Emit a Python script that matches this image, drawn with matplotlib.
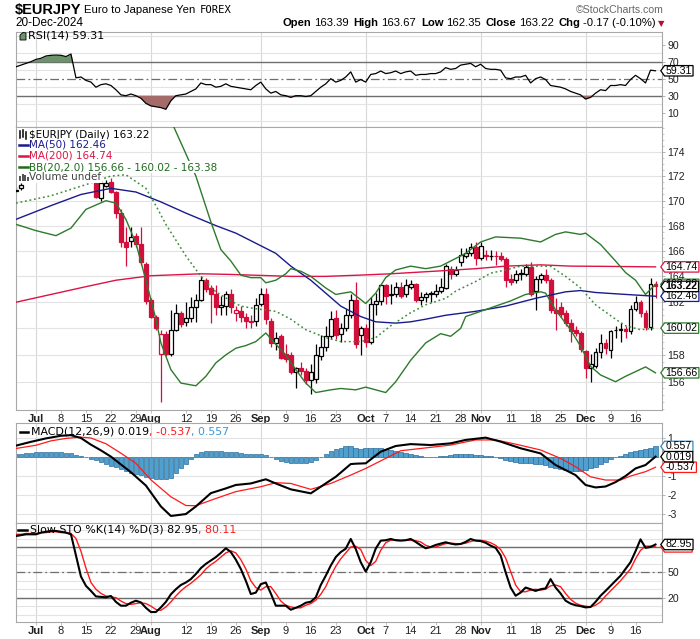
import numpy as np
import pandas as pd
import matplotlib
matplotlib.use('Agg')
import matplotlib.pyplot as plt
from matplotlib.path import Path
from matplotlib.patches import Polygon, Rectangle
from matplotlib.lines import Line2D
from matplotlib.ticker import FixedLocator, FuncFormatter
from matplotlib import font_manager

W, H = 700, 639

# ---------------- data ----------------
start_date, end_date = '2024-06-25', '2024-12-20'
ref_day = '2024-07-01'

open_ = [170.8, 171.0, 171.7, 171.9, 172.4, 173.7, 173.5, 174.3, 174.4, 174.1,
         174.3, 174.6, 175.2, 173.2, 172.6, 172.1, 172.2, 170.2, 171.2, 171.5,
         170.7, 169.0, 166.7, 166.8, 167.2, 166.5, 165.0, 162.2, 160.9, 158.1,
         159.6, 158.1, 159.9, 161.2, 160.5, 160.8, 161.6, 162.2, 163.7, 163.1,
         162.6, 161.6, 161.7, 162.6, 161.2, 161.3, 160.9, 160.6, 160.6, 161.9,
         162.6, 160.6, 158.9, 159.4, 158.1, 158.0, 156.7, 157.0, 156.8, 156.1,
         156.2, 157.9, 158.6, 159.4, 160.8, 159.6, 160.0, 161.0, 162.2, 159.5,
         160.0, 159.0, 161.9, 162.1, 163.3, 162.55, 162.6, 163.2, 162.6, 163.2,
         163.4, 162.2, 162.4, 162.6, 162.6, 162.9, 163.1, 164.6, 164.2, 165.1,
         165.6, 165.8, 166.3, 165.4, 165.65, 165.6, 165.62, 165.6, 165.35, 163.8,
         163.7, 164.2, 164.2, 164.75, 162.9, 163.8, 164.1, 163.7, 161.4, 161.6,
         161.2, 160.4, 159.9, 159.65, 158.3, 157.0, 157.2, 158.2, 158.9, 158.4,
         159.85, 159.85, 159.95, 159.8, 161.5, 162.0, 161.2, 160.1, 163.39]
high = [171.1, 171.4, 172.0, 172.6, 173.9, 173.8, 174.5, 174.6, 174.6, 174.5,
        174.8, 175.4, 175.4, 173.4, 172.8, 172.4, 172.3, 171.7, 171.7, 171.8,
        170.8, 169.3, 167.9, 167.9, 167.4, 167.9, 165.1, 162.3, 161.0, 159.9,
        159.8, 161.4, 161.9, 161.3, 162.0, 162.4, 162.6, 164.0, 163.9, 163.3,
        163.3, 162.5, 162.9, 163.0, 161.7, 161.7, 161.2, 161.0, 162.3, 163.1,
        163.1, 160.8, 159.7, 159.6, 158.8, 158.2, 157.1, 157.5, 157.0, 157.3,
        158.8, 159.5, 160.2, 161.3, 161.4, 160.4, 161.5, 162.6, 163.6, 160.2,
        160.3, 162.4, 162.7, 163.4, 163.4, 163.4, 163.6, 163.6, 163.8, 163.7,
        163.5, 162.8, 162.8, 162.9, 163.4, 163.9, 165.0, 164.8, 164.8, 166.2,
        166.2, 166.6, 166.7, 166.7, 166.1, 166.1, 166.0, 165.9, 165.5, 164.2,
        164.5, 164.6, 165.0, 165.1, 164.0, 164.3, 164.6, 163.9, 162.3, 162.0,
        161.4, 160.7, 160.2, 159.8, 158.4, 158.1, 158.5, 159.6, 159.2, 159.9,
        160.2, 160.4, 160.2, 161.8, 162.5, 162.2, 161.4, 163.9, 163.67]
low = [170.7, 170.9, 171.65, 171.8, 172.3, 173.1, 173.4, 174.0, 173.8, 173.7,
       174.1, 174.5, 172.4, 171.8, 171.8, 171.8, 170.2, 170.0, 171.1, 170.6,
       168.6, 166.3, 164.8, 166.3, 166.3, 164.9, 161.9, 160.8, 159.9, 154.5,
       157.9, 157.9, 159.8, 160.1, 160.2, 160.5, 160.5, 162.1, 162.8, 160.4,
       161.0, 161.0, 161.0, 161.2, 160.6, 160.5, 160.0, 160.0, 160.2, 161.7,
       160.3, 158.6, 158.4, 157.7, 157.5, 156.6, 155.5, 156.5, 155.8, 155.1,
       155.9, 157.6, 158.3, 159.2, 159.2, 159.0, 159.8, 160.8, 158.5, 158.0,
       158.6, 158.8, 161.0, 161.8, 161.9, 161.9, 162.4, 162.3, 162.4, 163.0,
       162.0, 161.8, 162.0, 162.0, 162.4, 162.7, 163.0, 163.8, 164.0, 164.8,
       165.4, 165.6, 164.9, 165.3, 165.3, 165.3, 164.9, 165.2, 163.2, 163.3,
       163.5, 163.7, 164.0, 162.5, 161.4, 163.5, 163.5, 161.2, 159.9, 160.9,
       160.2, 159.0, 159.4, 158.2, 156.3, 156.0, 157.0, 157.8, 158.1, 157.8,
       159.3, 159.0, 159.3, 159.6, 161.3, 160.9, 159.9, 159.9, 162.35]
close = [170.9, 171.3, 171.9, 172.4, 173.7, 173.5, 174.3, 174.4, 174.1, 174.3,
         174.6, 175.2, 173.2, 172.6, 172.1, 172.2, 170.3, 171.4, 171.4, 170.7,
         169.0, 166.7, 166.3, 167.1, 166.5, 165.1, 162.1, 160.9, 160.0, 159.6,
         158.1, 159.9, 161.2, 160.3, 160.8, 161.6, 162.2, 163.7, 163.0, 162.6,
         161.6, 161.8, 162.6, 161.6, 161.4, 160.9, 160.6, 160.5, 161.8, 162.6,
         160.7, 158.9, 159.3, 157.8, 157.7, 156.7, 157.0, 156.8, 156.1, 156.7,
         158.0, 158.6, 159.4, 160.7, 159.5, 160.0, 161.0, 162.2, 158.8, 160.0,
         159.0, 161.9, 162.1, 163.3, 162.5, 162.65, 163.2, 162.5, 163.3, 163.4,
         162.2, 162.4, 162.6, 162.7, 162.9, 163.2, 164.8, 164.2, 164.5, 165.7,
         165.8, 166.3, 165.4, 166.4, 165.6, 165.62, 165.6, 165.35, 163.7, 163.6,
         164.2, 164.25, 164.75, 162.65, 163.8, 164.1, 163.7, 161.4, 161.2, 161.1,
         160.4, 159.8, 159.65, 158.45, 157.0, 157.3, 158.2, 158.9, 158.5, 159.8,
         159.9, 159.95, 159.8, 161.5, 162.0, 161.2, 160.1, 163.39, 163.22]

# overlay lines, (trading days from 1 Jul, value)
ma50_day = [-4, 3, 9, 15, 20, 25, 30, 36, 40, 44, 48, 51, 55, 58, 61, 65, 68, 72, 75, 78, 82, 88, 94, 100, 106, 109, 112, 118, 124]
ma50_val = [168.5, 169.6, 170.5, 171.0, 170.7, 169.9, 169.0, 168.0, 167.4, 166.6, 165.8, 164.8, 163.7, 162.7, 161.7, 160.9,
            160.5, 160.4, 160.5, 160.7, 161.0, 161.3, 161.7, 162.3, 162.8, 162.9, 162.75, 162.6, 162.46]
ma200_day = [-4, 10, 16, 23, 33, 39, 51, 58, 65, 71, 81, 88, 94, 101, 107, 114, 124]
ma200_val = [162.0, 163.2, 163.7, 164.05, 164.2, 164.15, 164.0, 164.0, 164.1, 164.2, 164.43, 164.6, 164.8, 164.9, 164.8, 164.78, 164.74]
bbm_day = [-4, 3, 10, 15, 18, 22, 24, 26, 30, 33, 36, 39, 41, 44, 48, 51, 54, 58, 61, 65, 68, 71, 75, 78, 82, 84, 88, 91, 94,
           97, 101, 103, 106, 109, 112, 116, 118, 121, 124]
bbm_val = [169.8, 170.4, 171.3, 172.0, 172.1, 171.0, 169.6, 168.1, 165.6, 164.0, 162.8, 162.1, 161.7, 161.5, 161.3, 160.7,
           159.9, 159.3, 159.0, 159.0, 159.3, 160.2, 161.2, 161.8, 162.3, 162.85, 163.6, 164.25, 164.5, 164.8, 164.8, 164.78,
           164.0, 163.1, 161.8, 160.7, 160.2, 159.9, 160.02]
bbu_day = [-4, 10, 20, 25, 27, 32, 35, 37, 39, 41, 43, 45, 46, 48, 50, 51, 53, 55, 58, 60, 63, 66, 68, 70, 72, 75, 78, 81,
           83, 86, 89, 92, 97, 101, 104, 106, 109, 110, 113, 116, 118, 120, 122, 124]
bbu_val = [177.0, 177.5, 178.0, 177.5, 176.6, 172.0, 168.3, 166.1, 165.2, 164.1, 163.9, 163.9, 163.5, 163.7, 164.2, 164.6,
           164.4, 164.0, 163.1, 162.6, 162.8, 161.9, 162.7, 163.9, 164.5, 164.8, 164.6, 164.8, 165.2, 165.8, 166.7, 167.1,
           167.0, 166.7, 167.3, 167.5, 167.3, 167.4, 166.5, 165.2, 164.3, 163.7, 162.6, 163.38]
bbl_day = [-4, 0, 4, 7, 10, 14, 16, 18, 20, 22, 24, 25, 27, 29, 32, 34, 36, 38, 40, 42, 44, 46, 48, 50, 52, 54, 56, 59, 61,
           64, 66, 68, 70, 72, 75, 78, 81, 83, 85, 86, 89, 92, 95, 98, 101, 102, 104, 107, 109, 111, 113, 116, 118, 122, 124]
bbl_val = [168.1, 167.6, 167.2, 167.8, 169.3, 170.0, 169.8, 168.5, 166.6, 163.7, 160.7, 158.9, 156.9, 155.9, 155.7, 156.4,
           157.4, 158.0, 158.5, 158.7, 159.0, 159.65, 158.8, 158.0, 156.9, 155.9, 155.2, 155.4, 155.5, 155.4, 155.6, 155.4,
           155.2, 156.0, 157.6, 158.9, 159.6, 159.4, 160.0, 160.9, 161.3, 161.7, 162.1, 162.6, 162.8, 162.7, 161.4, 159.9,
           158.65, 157.15, 156.5, 156.0, 156.4, 157.1, 156.66]

rsi = [64, 66, 68, 70,
       72.7, 74, 76.7, 77.5, 77.8, 77.5, 76, 79,
       51, 52, 48, 46, 40, 43, 44, 42,
       37, 31, 30, 32, 30, 27, 21, 18,
       17, 16, 14, 24, 30, 31, 32, 35,
       38, 45, 43, 43, 40, 41, 44, 41,
       40, 39, 38, 37, 42, 46, 38, 33,
       35, 31, 30, 28, 30, 30, 29, 30,
       35, 40, 44, 50, 46, 48, 52, 58,
       46, 49, 46, 55, 56, 59, 56, 57,
       59, 56, 58, 59, 54, 55, 55, 56,
       56, 58, 63, 61, 62, 66, 67, 68,
       64, 67, 62, 61, 61, 60, 51, 50,
       52, 52, 54, 45, 50, 52, 49, 42,
       41, 40, 38, 35, 33, 31, 26, 28,
       33, 37, 36, 42, 42, 43, 42, 49,
       54, 50, 45, 60, 59.31]

macd_day = [-4, -1, 2, 5, 7, 9, 11, 13, 15, 19, 22, 25, 27, 30, 32, 35, 38, 40, 43, 46, 48, 51, 55, 57, 60, 63, 64, 66, 69,
            72, 75, 79, 83, 86, 90, 93, 97, 101, 104, 108, 110, 112, 114, 116, 118, 120, 122, 124]
macd_val = [0.6, 0.8, 0.98, 1.12, 1.15, 1.0, 0.65, 0.35, 0.02, -0.8, -1.5, -2.6, -3.1, -3.0, -2.6, -1.9, -1.65, -1.47, -1.39,
            -1.17, -1.39, -1.7, -1.91, -1.56, -1.04, -0.37, -0.35, -0.33, 0.28, 0.58, 0.68, 0.63, 0.72, 0.9, 1.02, 0.81,
            0.46, 0.19, -0.42, -0.95, -1.47, -1.6, -1.55, -1.32, -1.0, -0.6, -0.42, 0.019]
sig_day = [-4, 0, 3, 6, 9, 11, 14, 17, 20, 23, 27, 30, 32, 36, 40, 45, 48, 51, 55, 59, 63, 66, 70, 73, 79, 83, 88, 92, 96,
           101, 105, 108, 111, 114, 117, 119, 122, 124]
sig_val = [0.45, 0.62, 0.85, 0.98, 1.05, 1.0, 0.7, 0.2, -0.33, -1.2, -2.09, -2.55, -2.56, -2.18, -1.82, -1.56, -1.35, -1.39,
           -1.7, -1.39, -0.95, -0.6, -0.07, 0.33, 0.51, 0.63, 0.9, 0.9, 0.68, 0.37, -0.07, -0.51, -1.04, -1.21, -1.21,
           -1.0, -0.77, -0.537]
hist = [0.15, 0.18, 0.2, 0.22,
        0.24, 0.25, 0.26, 0.26, 0.25, 0.24, 0.22,
        0.2, 0.12, 0.05, -0.02,
        -0.1, -0.18, -0.27, -0.36, -0.45,
        -0.55, -0.65, -0.75, -0.83, -0.9,
        -0.97, -1.03, -1.1, -1.15, -1.18, -1.18, -1.1,
        -0.85, -0.6, -0.35, -0.1,
        0.15, 0.25, 0.3, 0.32, 0.32, 0.3,
        0.28, 0.26, 0.25, 0.22, 0.18, 0.16, 0.17, 0.15, 0.1,
        0.02, -0.1, -0.2,
        -0.26, -0.3, -0.33, -0.33, -0.32, -0.28,
        -0.15, 0.0, 0.15,
        0.3, 0.4, 0.5, 0.56, 0.58, 0.5, 0.42,
        0.46, 0.5, 0.48, 0.45, 0.42, 0.35, 0.3,
        0.25, 0.2, 0.15, 0.1, 0.05, 0.02,
        0.0, 0.02, 0.05, 0.08, 0.12,
        0.15, 0.17, 0.16, 0.15, 0.12, 0.1, 0.06,
        0.03, 0.0, -0.05,
        -0.15, -0.22, -0.27, -0.3, -0.32, -0.34,
        -0.36, -0.38, -0.42, -0.5, -0.58, -0.62, -0.68,
        -0.72, -0.75, -0.72, -0.68, -0.6, -0.5,
        -0.38, -0.25, -0.12, -0.02,
        0.07, 0.18, 0.28, 0.32, 0.38, 0.42, 0.5, 0.557]

sto_k = [93, 94, 95, 95,
         95, 97, 98, 99, 99, 98, 97, 95,
         70, 45, 34, 28, 21.5, 21, 20.4, 22,
         15, 10.5, 10.5, 14, 16.4, 14.4, 8, 3,
         3, 8.5, 15, 24, 30, 35, 38, 42,
         48, 55, 60, 64, 68, 73, 78.5, 74,
         65, 54, 40, 24.3, 26, 36, 38, 25,
         10.5, 10.5, 10.5, 5.7, 8, 10.5, 14, 15.2,
         20.4, 35, 46, 58, 68, 74, 78, 89.5,
         77.7, 62, 50.8, 62, 78, 87.5, 88, 89.5,
         88, 87.5, 88, 89.5, 86, 82, 78.5, 80,
         82.4, 84, 85.6, 84, 83, 83.6, 86, 89.5,
         87.5, 87, 85, 81.6, 79, 70, 50, 32,
         22.3, 26, 32, 30, 28, 30, 31, 42,
         32, 25, 16.4, 13, 11, 10, 8.5, 9,
         15, 22.3, 28, 34, 40, 46, 54, 62,
         75, 89, 79, 80, 82.95]
sto_d = [95, 95, 96, 96,
         96, 97, 97, 98, 98, 97, 97, 96,
         90, 75, 55, 38, 30, 25, 22, 21,
         20, 16, 13, 12, 13, 14, 13, 10,
         6, 5, 9, 15, 22, 28, 33, 37,
         42, 47, 54, 59, 63, 68, 73, 75.5,
         73, 65, 54, 40, 32, 29, 33, 33,
         25, 16, 11, 9, 8, 8, 11, 13,
         17, 24, 33, 46, 57, 66, 73, 80,
         81, 77, 64, 58, 63, 76, 85, 88,
         88.5, 88, 88, 88, 87.5, 86, 82, 80,
         80, 82, 84, 84.5, 84, 83.5, 84.5, 86.5,
         88, 88, 87, 85, 82, 77, 67, 51,
         35, 27, 27, 29, 30, 29, 30, 34,
         35, 33, 25, 18, 13.5, 11, 10, 9,
         11, 15, 22, 28, 34, 40, 47, 54,
         66, 76, 81, 81, 80.11]

price_ticks = [156, 158, 160, 162, 164, 166, 168, 170, 172, 174]
rsi_ticks = [10, 30, 50, 70, 90]
macd_ticks = [1, -1, -2, -3]
sto_ticks = [20, 50, 80]

# ---------------- fonts ----------------
names = {f.name for f in font_manager.fontManager.ttflist}
NARROW = 'Liberation Sans Narrow' if 'Liberation Sans Narrow' in names else 'Liberation Sans'
ARIAL = 'Liberation Sans'
plt.rcParams['font.family'] = ['DejaVu Sans']

# ---------------- figure ----------------
dates = pd.bdate_range(start_date, end_date)
n = len(dates)
x = np.arange(n)
d0 = dates.get_loc(pd.Timestamp(ref_day))

fig = plt.figure(figsize=(W / 100, H / 100), dpi=100)
fig.patch.set_facecolor('white')


def rect(top, bottom):
    return [16 / W, 1 - bottom / H, (662 - 16) / W, (bottom - top) / H]


ax_r = fig.add_axes(rect(32, 127))
ax_p = fig.add_axes(rect(127, 410))
ax_m = fig.add_axes(rect(423, 523))
ax_s = fig.add_axes(rect(523, 622))
axes = [ax_r, ax_p, ax_m, ax_s]

month_first = [k for k in range(1, n) if dates[k].month != dates[k - 1].month]
mondays = [k for k in range(n) if dates[k].dayofweek == 0]
tick_pos, tick_lab, tick_bold = [], [], []
for k in sorted(set(month_first) | set(mondays)):
    if k in month_first:
        tick_pos.append(k); tick_lab.append(dates[k].strftime('%b')); tick_bold.append(True)
    elif not any(abs(k - m) <= 2 for m in month_first):
        tick_pos.append(k); tick_lab.append(str(dates[k].day)); tick_bold.append(False)

GRID = '#e3e3e3'
REF = '#6e6e6e'
for ax in axes:
    ax.set_xlim(0, n + 0.3)
    for sp in ax.spines.values():
        sp.set_color('#a8a8a8'); sp.set_linewidth(0.8)
    ax.yaxis.tick_right()
    ax.tick_params(axis='y', which='major', length=2.5, width=0.6, color='#a8a8a8', labelsize=7.6, pad=1.5,
                   labelcolor='#222222', labelfontfamily=ARIAL)
    ax.tick_params(axis='y', which='minor', length=1.5, width=0.5, color='#b8b8b8')
    for m in month_first:
        ax.axvline(m, color='#d8d8d8', lw=0.8, zorder=0)
    ax.set_xticks(tick_pos)
    ax.tick_params(axis='x', length=2, width=0.5, color='#a8a8a8', labelsize=8, pad=1.2, labelcolor='#222222',
                   labelfontfamily=ARIAL)
    if ax in (ax_p, ax_s):
        ax.set_xticklabels(tick_lab)
        for t, b in zip(ax.get_xticklabels(), tick_bold):
            t.set_fontweight('bold' if b else 'normal')
    else:
        ax.set_xticklabels([])


def px(xp, yp):
    return (xp / W, 1 - yp / H)


def tag_box(x0, y0, width, height, mutation_size):
    p = 0.1 * mutation_size
    x0 -= p; width += 2 * p
    y0 -= 0.02 * mutation_size; height += 0.04 * mutation_size
    a = height * 0.36
    verts = [(x0 - a, y0 + height / 2), (x0, y0), (x0 + width, y0), (x0 + width, y0 + height),
             (x0, y0 + height), (x0 - a, y0 + height / 2)]
    codes = [Path.MOVETO, Path.LINETO, Path.LINETO, Path.LINETO, Path.LINETO, Path.CLOSEPOLY]
    return Path(verts, codes)


def tag(ax, val, txt, ec, bold=False, z=6):
    ax.annotate(txt, xy=(1, val), xycoords=('axes fraction', 'data'), xytext=(2.6, 0),
                textcoords='offset points', ha='left', va='center', fontsize=7.6, family=ARIAL,
                fontweight='bold' if bold else 'normal', color='black',
                bbox=dict(boxstyle=tag_box, fc='white', ec=ec, lw=0.9), annotation_clip=False, zorder=z)


# ---------------- RSI ----------------
rv = np.array(rsi, float)
ax_r.set_ylim(-6.8, 104.9)
for g in [0, 20, 40, 60, 80, 100]:
    ax_r.axhline(g, color=GRID, lw=0.8, zorder=0)
ax_r.axhline(70, color=REF, lw=1.0, zorder=1)
ax_r.axhline(30, color=REF, lw=1.0, zorder=1)
ax_r.axhline(50, color=REF, lw=0.9, dashes=(7, 2.5, 1.5, 2.5), zorder=1)
ax_r.fill_between(x, rv, 70, where=rv >= 70, interpolate=True, color='#6b946b', lw=0, zorder=2)
ax_r.fill_between(x, rv, 30, where=rv <= 30, interpolate=True, color='#a56b6b', lw=0, zorder=2)
ax_r.plot(x, rv, color='black', lw=0.9, zorder=3)
ax_r.yaxis.set_major_locator(FixedLocator(rsi_ticks))
ax_r.yaxis.set_major_formatter(FuncFormatter(lambda v, _: f'{v:.0f}'))
tag(ax_r, rsi[-1], f'{rsi[-1]:.2f}', 'black')

# ---------------- price ----------------
ax_p.set_yscale('log')
ax_p.set_ylim(153.92, 176.05)
ax_p.yaxis.set_major_locator(FixedLocator(price_ticks))
ax_p.yaxis.set_minor_locator(FixedLocator(np.arange(154, 176.01, 0.5)))
ax_p.yaxis.set_major_formatter(FuncFormatter(lambda v, _: f'{v:.0f}'))
ax_p.yaxis.set_minor_formatter(FuncFormatter(lambda v, _: ''))
for g in price_ticks:
    ax_p.axhline(g, color=GRID, lw=0.8, zorder=0)

RED = '#d10f3a'
o = np.array(open_); h = np.array(high); l = np.array(low); c = np.array(close)
prev = np.concatenate([[o[0]], c[:-1]])
for k in range(n):
    col = RED if c[k] < prev[k] else 'black'
    filled = c[k] < o[k]
    ax_p.vlines(x[k], l[k], h[k], color=col, lw=0.9, zorder=2)
    lo, hi = min(o[k], c[k]), max(o[k], c[k])
    ax_p.bar(x[k], hi - lo, bottom=lo, width=0.78, color=col if filled else 'white',
             edgecolor=col, linewidth=0.9, zorder=3)


def dx(days):
    return d0 + np.array(days)


ax_p.plot(dx(ma200_day), ma200_val, color='#dc1446', lw=1.0, zorder=4)
ax_p.plot(dx(ma50_day), ma50_val, color='#1a1a8c', lw=1.0, zorder=4)
ax_p.plot(dx(bbu_day), bbu_val, color='#2d7a2d', lw=1.0, zorder=4)
ax_p.plot(dx(bbl_day), bbl_val, color='#2d7a2d', lw=1.0, zorder=4)
ax_p.plot(dx(bbm_day), bbm_val, color='#3d8d3d', lw=1.1, ls=(0, (1.2, 1.8)), zorder=4)

tag(ax_p, ma200_val[-1], f'{ma200_val[-1]:.2f}', '#dc1446')
tag(ax_p, bbu_val[-1], f'{bbu_val[-1]:.2f}', '#2d7a2d', z=6)
tag(ax_p, close[-1], f'{close[-1]:.2f}', 'black', bold=True, z=8)
tag(ax_p, ma50_val[-1], f'{ma50_val[-1]:.2f}', '#1a1a8c', z=7)
tag(ax_p, bbm_val[-1], f'{bbm_val[-1]:.2f}', '#2d7a2d')
tag(ax_p, bbl_val[-1], f'{bbl_val[-1]:.2f}', '#2d7a2d')

# ---------------- MACD ----------------
ax_m.set_ylim(-3.47, 1.79)
for g in [1, 0, -1, -2, -3]:
    ax_m.axhline(g, color=GRID, lw=0.8, zorder=0)
ax_m.bar(x, hist, width=0.9, color='#4f9fcf', edgecolor='#2f6f99', linewidth=0.5, zorder=2)
ax_m.plot(dx(sig_day), sig_val, color='#ff1a1a', lw=0.9, zorder=3)
ax_m.plot(dx(macd_day), macd_val, color='black', lw=1.5, zorder=4)
ax_m.yaxis.set_major_locator(FixedLocator(macd_ticks))
ax_m.yaxis.set_major_formatter(FuncFormatter(lambda v, _: f'{v:.0f}'))
tag(ax_m, hist[-1], f'{hist[-1]:.3f}', '#3a88bb')
tag(ax_m, macd_val[-1], f'{macd_val[-1]:.3f}', 'black', z=7)
tag(ax_m, sig_val[-1], f'{sig_val[-1]:.3f}', '#ff1a1a')

# ---------------- Slow STO ----------------
ax_s.set_ylim(-8.8, 108.4)
for g in range(0, 101, 10):
    ax_s.axhline(g, color=GRID, lw=0.8, zorder=0)
ax_s.axhline(80, color=REF, lw=1.0, zorder=1)
ax_s.axhline(20, color=REF, lw=1.0, zorder=1)
ax_s.axhline(50, color=REF, lw=0.9, dashes=(7, 2.5, 1.5, 2.5), zorder=1)
ax_s.plot(x, sto_d, color='#ff1a1a', lw=1.0, zorder=3)
ax_s.plot(x, sto_k, color='black', lw=1.5, zorder=4)
ax_s.yaxis.set_major_locator(FixedLocator(sto_ticks))
ax_s.yaxis.set_major_formatter(FuncFormatter(lambda v, _: f'{v:.0f}'))
tag(ax_s, sto_d[-1], f'{sto_d[-1]:.2f}', '#ff1a1a')
tag(ax_s, sto_k[-1], f'{sto_k[-1]:.2f}', 'black', z=7)

# ---------------- texts ----------------
renderer = fig.canvas.get_renderer()


def seq_text(xp, yp, pieces, ha='left', **common):
    arts, total = [], 0
    for s, kw, gap in pieces:
        t = fig.text(0, 0, s, va='center', **{**common, **kw})
        w = t.get_window_extent(renderer).width
        arts.append((t, w, gap)); total += w + gap
    cur = xp if ha == 'left' else xp - total
    for t, w, gap in arts:
        t.set_position(px(cur, yp)); cur += w + gap


B = dict(fontweight='bold')
N = dict()
seq_text(15, 10, [('$EURJPY', dict(fontsize=10.5, fontweight='bold', family=[NARROW, 'DejaVu Sans']), 3),
                  ('Euro to Japanese Yen', dict(fontsize=8.2, family=[NARROW, 'DejaVu Sans']), 4),
                  ('FOREX', dict(fontsize=7.6, family=['DejaVu Sans Mono']), 0)], color='black')
fig.text(*px(664, 10), '\u00a9StockCharts.com', ha='right', va='center', fontsize=7.6, color='#666666',
         family=[NARROW, 'DejaVu Sans'])
fig.text(*px(15, 23.5), '20-Dec-2024', ha='left', va='center', fontsize=8.5, family=[NARROW, 'DejaVu Sans'])
fam = dict(family=[NARROW, 'DejaVu Sans'], fontsize=8.1)
seq_text(664, 23.5, [('Open', B, 2.5), ('163.39', N, 5), ('High', B, 2.5), ('163.67', N, 5), ('Low', B, 2.5),
                     ('162.35', N, 5), ('Close', B, 2.5), ('163.22', N, 5), ('Chg', B, 2.5),
                     ('-0.17 (-0.10%)', N, 2),
                     ('\u25bc', dict(color='#b01030', fontsize=6, family=['DejaVu Sans']), 0)],
         ha='right', **fam)

# RSI legend
fig.add_artist(Polygon([px(20, 40), px(20, 35), px(23, 32.5), px(26, 33), px(26, 40)], closed=True,
                       transform=fig.transFigure, fc='#6b946b', ec='black', lw=0.6))
fig.text(*px(28, 36), 'RSI(14) 59.31', ha='left', va='center', fontsize=8)

# price legend
LEG = dict(ha='left', va='center', fontsize=7.5, bbox=dict(fc='white', ec='none', pad=0.6), zorder=10)
fig.text(*px(29, 134.5), '$EURJPY (Daily) 163.22', color='black', **LEG)
fig.text(*px(29, 145), 'MA(50) 162.46', color='#1a1a8c', **LEG)
fig.text(*px(29, 155.7), 'MA(200) 164.74', color='#dc1446', **LEG)
fig.text(*px(29, 167), 'BB(20,2.0) 156.66 - 160.02 - 163.38', color='#1f6b1f', **LEG)
fig.text(*px(29, 177.5), 'Volume undef', color='#444444', **LEG)
fig.add_artist(Rectangle(px(17, 182), 12 / W, 54 / H, transform=fig.transFigure, fc='white', ec='none', zorder=9))
for yy, cc in [(145, '#1a1a8c'), (155.7, '#dc1446'), (167, '#1f6b1f')]:
    fig.add_artist(Line2D([19 / W, 28 / W], [1 - yy / H] * 2, transform=fig.transFigure, color=cc, lw=1.8, zorder=11))
for xx, y1, y2 in [(20, 131, 138), (23, 130.5, 137), (26, 132, 138.5)]:
    fig.add_artist(Line2D([xx / W] * 2, [1 - y1 / H, 1 - y2 / H], transform=fig.transFigure, color='black', lw=1.1,
                          zorder=11))
for xx, hh in [(20, 5), (22.5, 7), (25, 6), (27.5, 4)]:
    fig.add_artist(Rectangle(px(xx - 1, 181), 2 / W, hh / H, transform=fig.transFigure, fc='#555555', ec='none',
                             zorder=11))

# MACD legend
fig.add_artist(Line2D([20 / W, 28 / W], [1 - 432 / H] * 2, transform=fig.transFigure, color='black', lw=1.8))
seq_text(31, 432, [('MACD(12,26,9) 0.019', dict(color='black'), 0), (', -0.537', dict(color='#ff1a1a'), 0),
                   (', 0.557', dict(color='#3a98d4'), 0)], fontsize=7.9)
# STO legend
fig.add_artist(Line2D([18 / W, 27 / W], [1 - 530 / H] * 2, transform=fig.transFigure, color='black', lw=1.8,
                      zorder=11))
seq_text(30, 530, [('Slow STO %K(14) %D(3) 82.95', dict(color='black'), 0), (', 80.11', dict(color='#ff1a1a'), 0)],
         fontsize=7.9)

fig.savefig('out.png', dpi=100)
